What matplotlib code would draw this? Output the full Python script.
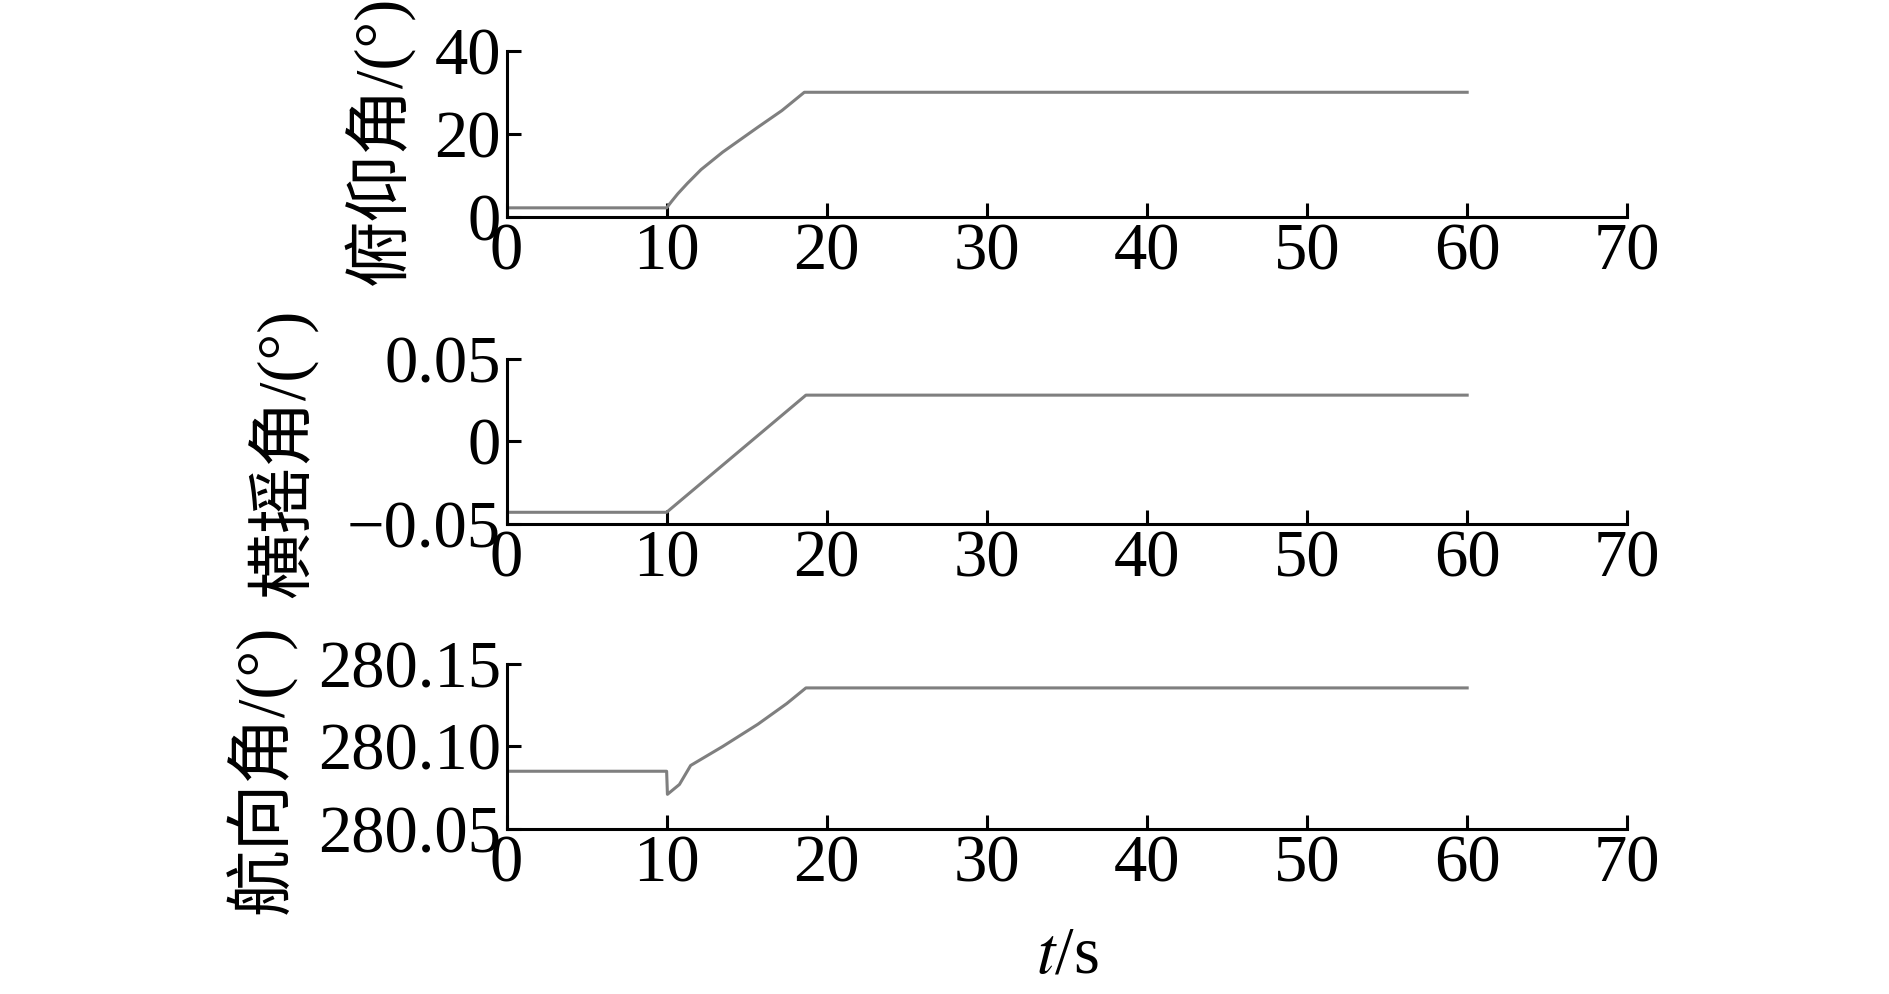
import matplotlib
matplotlib.use("Agg")
import matplotlib.pyplot as plt
from matplotlib.ticker import FixedLocator, FixedFormatter

plt.rcParams['font.family'] = ['Liberation Serif', 'Noto Sans CJK SC']
plt.rcParams['mathtext.fontset'] = 'stix'
plt.rcParams['axes.unicode_minus'] = True

# ---- data ----
t_pitch = [0, 10, 10.3, 10.7, 11.3, 12.15, 13.5, 15.7, 17.2, 18.6, 60]
pitch = [2.2, 2.2, 3.7, 5.6, 8.1, 11.4, 15.6, 21.6, 25.6, 30.0, 30.0]

t_roll = [0, 10, 18.7, 60]
roll = [-0.043, -0.043, 0.028, 0.028]

t_head = [0, 10, 10.05, 10.8, 11.5, 13.5, 15.7, 17.5, 18.7, 60]
heading = [280.085, 280.085, 280.071, 280.077, 280.0885, 280.100, 280.1135, 280.126, 280.1355, 280.1355]

x_ticks = [0, 10, 20, 30, 40, 50, 60, 70]
x_ticklabels = ['0', '10', '20', '30', '40', '50', '60', '70']

pitch_ticks = [0, 20, 40]
pitch_labels = ['0', '20', '40']
roll_ticks = [-0.05, 0, 0.05]
roll_labels = ['\u22120.05', '0', '0.05']
head_ticks = [280.05, 280.10, 280.15]
head_labels = ['280.05', '280.10', '280.15']

ylabels = ['俯仰角/(°)', '横摇角/(°)', '航向角/(°)']

# ---- layout ----
fig = plt.figure(figsize=(18.9, 9.94), dpi=100)
left, width = 0.268, 0.593
boxes = [(0.7817, 0.1673), (0.473, 0.166), (0.166, 0.166)]
series = [(t_pitch, pitch, pitch_ticks, pitch_labels, (0, 40)),
          (t_roll, roll, roll_ticks, roll_labels, (-0.05, 0.05)),
          (t_head, heading, head_ticks, head_labels, (280.05, 280.15))]
label_pos = [(-0.082, 0.46), (-0.169, 0.43), (-0.187, 0.36)]

fs = 48
for i, ((b, h), (tx, ty, yt, yl, ylim)) in enumerate(zip(boxes, series)):
    ax = fig.add_axes([left, b, width, h])
    ax.plot(tx, ty, color='#7f7f7f', lw=2.2)
    ax.set_xlim(0, 70)
    ax.set_ylim(*ylim)
    ax.xaxis.set_major_locator(FixedLocator(x_ticks))
    ax.xaxis.set_major_formatter(FixedFormatter(x_ticklabels))
    ax.yaxis.set_major_locator(FixedLocator(yt))
    ax.yaxis.set_major_formatter(FixedFormatter(yl))
    for s in ['top', 'right']:
        ax.spines[s].set_visible(False)
    for s in ['left', 'bottom']:
        ax.spines[s].set_linewidth(2.2)
    ax.tick_params(direction='in', length=10, width=2.2, labelsize=fs, pad=4)
    ax.set_ylabel(ylabels[i], fontsize=fs)
    ax.yaxis.set_label_coords(*label_pos[i])

fig.text(1067 / 1890, 1 - 956 / 994, '$t$/s', fontsize=fs, ha='center', va='center')

fig.savefig('out.png', dpi=100)
